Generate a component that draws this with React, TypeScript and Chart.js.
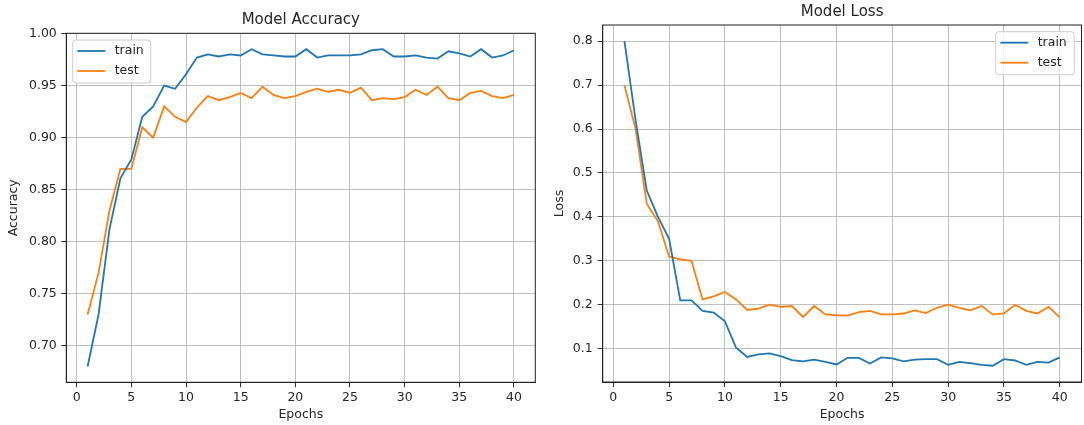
import React, { useEffect, useRef } from "react";
import { Chart, registerables } from "chart.js";

Chart.register(...registerables);

const epochs = [1, 2, 3, 4, 5, 6, 7, 8, 9, 10, 11, 12, 13, 14, 15, 16, 17, 18, 19, 20, 21, 22, 23, 24, 25, 26, 27, 28, 29, 30, 31, 32, 33, 34, 35, 36, 37, 38, 39, 40];

const trainAcc = [0.680, 0.730, 0.812, 0.861, 0.879, 0.920, 0.930, 0.950, 0.947, 0.961, 0.977, 0.980, 0.978, 0.980, 0.979, 0.985, 0.980, 0.979, 0.978, 0.978, 0.985, 0.977, 0.979, 0.979, 0.979, 0.980, 0.984, 0.985, 0.978, 0.978, 0.979, 0.977, 0.976, 0.983, 0.981, 0.978, 0.985, 0.977, 0.979, 0.984];
const testAcc = [0.730, 0.770, 0.830, 0.870, 0.870, 0.910, 0.900, 0.930, 0.920, 0.915, 0.929, 0.940, 0.936, 0.939, 0.943, 0.938, 0.949, 0.941, 0.938, 0.940, 0.944, 0.947, 0.944, 0.946, 0.943, 0.948, 0.936, 0.938, 0.937, 0.939, 0.946, 0.941, 0.949, 0.938, 0.936, 0.943, 0.945, 0.940, 0.938, 0.941];

const trainLoss = [0.80, 0.62, 0.46, 0.40, 0.35, 0.21, 0.21, 0.186, 0.182, 0.162, 0.102, 0.081, 0.087, 0.089, 0.083, 0.074, 0.071, 0.075, 0.070, 0.064, 0.079, 0.079, 0.066, 0.080, 0.078, 0.071, 0.075, 0.076, 0.076, 0.063, 0.070, 0.067, 0.063, 0.061, 0.076, 0.073, 0.063, 0.070, 0.068, 0.080];
const testLoss = [0.70, 0.60, 0.43, 0.39, 0.31, 0.303, 0.300, 0.212, 0.219, 0.229, 0.212, 0.188, 0.191, 0.200, 0.195, 0.197, 0.172, 0.197, 0.178, 0.176, 0.175, 0.183, 0.186, 0.178, 0.178, 0.180, 0.187, 0.181, 0.193, 0.200, 0.193, 0.187, 0.197, 0.178, 0.180, 0.200, 0.186, 0.180, 0.195, 0.171];

const seriesLabels = ["train", "test"];
const accTicks = [0.70, 0.75, 0.80, 0.85, 0.90, 0.95, 1.00];
const lossTicks = [0.1, 0.2, 0.3, 0.4, 0.5, 0.6, 0.7, 0.8];
const epochTicks = [0, 5, 10, 15, 20, 25, 30, 35, 40];

const FONT = '"DejaVu Sans", "Liberation Sans", sans-serif';
const TEXT = "#262626";
const BLUE = "#1f77b4";
const ORANGE = "#ff7f0e";

type Cfg = {
  title: string;
  yTitle: string;
  train: number[];
  test: number[];
  yMin: number;
  yMax: number;
  yStep: number;
  yDecimals: number;
  yTicks: number[];
  yWidth: number;
  yPad: number;
  yTitlePad: number;
  titlePadTop: number;
  titlePadBottom: number;
  padRight: number;
  xHeight: number;
  legendCorner: "left" | "right";
};

function makeDecor(corner: "left" | "right") {
  return {
    id: "mplDecor",
    afterLayout(chart: any) {
      const tb = chart.titleBlock;
      if (tb) {
        tb.left = chart.chartArea.left;
        tb.right = chart.chartArea.right;
        tb.width = tb.right - tb.left;
      }
    },
    afterDatasetsDraw(chart: any) {
      const { ctx, chartArea: a } = chart;
      ctx.save();
      // spines
      ctx.strokeStyle = "#222";
      ctx.lineWidth = 1;
      ctx.strokeRect(a.left, a.top, a.right - a.left, a.bottom - a.top);
      // legend
      const w = corner === "left" ? 78 : 78.6;
      const h = 43;
      const x = corner === "left" ? a.left + 6.4 : a.right - 7.2 - w;
      const y = a.top + 6.7;
      ctx.beginPath();
      if ((ctx as any).roundRect) (ctx as any).roundRect(x, y, w, h, 3);
      else ctx.rect(x, y, w, h);
      ctx.fillStyle = "rgba(255,255,255,0.8)";
      ctx.fill();
      ctx.strokeStyle = "#cccccc";
      ctx.lineWidth = 1;
      ctx.stroke();
      chart.data.datasets.forEach((ds: any, i: number) => {
        const ly = y + 11 + i * 20;
        ctx.beginPath();
        ctx.moveTo(x + 4.6, ly);
        ctx.lineTo(x + 32.6, ly);
        ctx.strokeStyle = ds.borderColor;
        ctx.lineWidth = 1.8;
        ctx.stroke();
        ctx.fillStyle = TEXT;
        ctx.font = `12.5px ${FONT}`;
        ctx.textBaseline = "middle";
        ctx.textAlign = "left";
        ctx.fillText(ds.label, x + 42, ly);
      });
      ctx.restore();
    },
  };
}

function buildConfig(c: Cfg): any {
  const mk = (vals: number[]) => epochs.map((e, i) => ({ x: e, y: vals[i] }));
  return {
    type: "line",
    data: {
      datasets: [
        { label: seriesLabels[0], data: mk(c.train), borderColor: BLUE, backgroundColor: BLUE, borderWidth: 1.8, pointRadius: 0, tension: 0 },
        { label: seriesLabels[1], data: mk(c.test), borderColor: ORANGE, backgroundColor: ORANGE, borderWidth: 1.8, pointRadius: 0, tension: 0 },
      ],
    },
    options: {
      animation: false,
      responsive: false,
      devicePixelRatio: 1,
      events: [],
      layout: { padding: { left: 0, right: c.padRight, top: 0, bottom: 0 } },
      plugins: {
        legend: { display: false },
        tooltip: { enabled: false },
        title: {
          display: true,
          text: c.title,
          color: TEXT,
          font: { family: FONT, size: 15, weight: "normal", lineHeight: 1.2 },
          padding: { top: c.titlePadTop, bottom: c.titlePadBottom },
        },
      },
      scales: {
        x: {
          type: "linear",
          min: -0.95,
          max: 41.95,
          afterFit: (s: any) => { s.height = c.xHeight; },
          afterBuildTicks: (s: any) => { s.ticks = epochTicks.map((v) => ({ value: v })); },
          ticks: {
            stepSize: 5,
            includeBounds: false,
            color: TEXT,
            padding: 3,
            maxRotation: 0,
            autoSkip: false,
            font: { family: FONT, size: 12.5 },
            callback: (v: any) => String(v),
          },
          grid: { color: "#b0b0b0", lineWidth: 0.8, drawTicks: true, tickLength: 5, tickColor: "#333", tickWidth: 1 },
          border: { display: true, color: "#222", width: 1 },
          title: { display: true, text: "Epochs", color: TEXT, font: { family: FONT, size: 12.5, lineHeight: 1.2 }, padding: { top: 0, bottom: 2.5 } },
        },
        y: {
          type: "linear",
          min: c.yMin,
          max: c.yMax,
          afterFit: (s: any) => { s.width = c.yWidth; },
          afterBuildTicks: (s: any) => { s.ticks = c.yTicks.map((v) => ({ value: v })); },
          ticks: {
            stepSize: c.yStep,
            includeBounds: false,
            color: TEXT,
            padding: c.yPad,
            autoSkip: false,
            font: { family: FONT, size: 12.5 },
            callback: (v: any) => Number(v).toFixed(c.yDecimals),
          },
          grid: { color: "#b0b0b0", lineWidth: 0.8, drawTicks: true, tickLength: 5, tickColor: "#333", tickWidth: 1 },
          border: { display: true, color: "#222", width: 1 },
          title: { display: true, text: c.yTitle, color: TEXT, font: { family: FONT, size: 12.5, lineHeight: 1.2 }, padding: { top: c.yTitlePad, bottom: 0 } },
        },
      },
    },
    plugins: [makeDecor(c.legendCorner)],
  };
}

function Panel({ cfg, left, width }: { cfg: Cfg; left: number; width: number }) {
  const ref = useRef<HTMLCanvasElement | null>(null);
  useEffect(() => {
    if (!ref.current) return;
    const chart = new Chart(ref.current, buildConfig(cfg));
    return () => chart.destroy();
  }, []);
  return (
    <canvas
      ref={ref}
      width={width}
      height={425}
      style={{ position: "absolute", left, top: 0, width, height: 425 }}
    />
  );
}

const accCfg: Cfg = {
  title: "Model Accuracy",
  yTitle: "Accuracy",
  train: trainAcc,
  test: testAcc,
  yMin: 0.6648,
  yMax: 1.0003,
  yStep: 0.05,
  yDecimals: 2,
  yTicks: accTicks,
  yWidth: 66.3,
  yPad: 4.5,
  yTitlePad: 6.5,
  titlePadTop: 11,
  titlePadBottom: 4.3,
  padRight: 9.7,
  xHeight: 42.7,
  legendCorner: "left",
};

const lossCfg: Cfg = {
  title: "Model Loss",
  yTitle: "Loss",
  train: trainLoss,
  test: testLoss,
  yMin: 0.024,
  yMax: 0.837,
  yStep: 0.1,
  yDecimals: 1,
  yTicks: lossTicks,
  yWidth: 57.7,
  yPad: 5,
  yTitlePad: 7.5,
  titlePadTop: 3.3,
  titlePadBottom: 3.7,
  padRight: 2.5,
  xHeight: 43,
  legendCorner: "right",
};

export default function App() {
  return (
    <div style={{ position: "absolute", left: 0, top: 0, width: 1084, height: 425, background: "#fff" }}>
      <Panel cfg={accCfg} left={0} width={545} />
      <Panel cfg={lossCfg} left={545} width={539} />
    </div>
  );
}
